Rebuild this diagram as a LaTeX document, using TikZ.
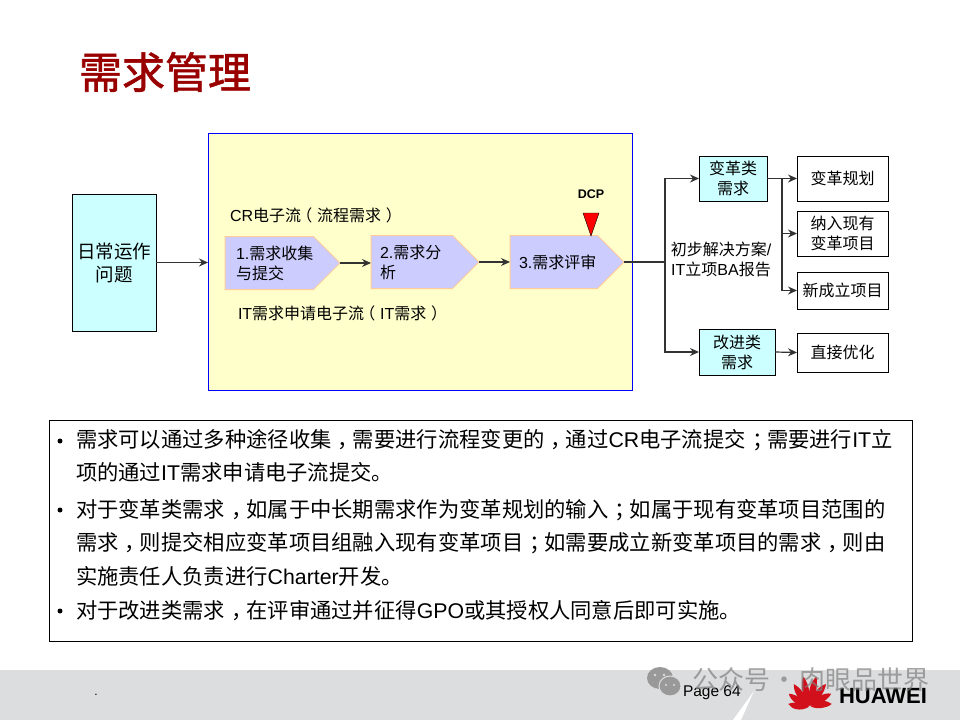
\documentclass[tikz,border=0pt]{standalone}
\usepackage{fontspec}
\setmainfont{Noto Sans CJK SC}
\newfontfamily\latinfont{Liberation Sans}
\newfontfamily\titlefont[FakeBold=1.4]{Noto Sans CJK SC}
\newcommand{\en}[1]{{\latinfont #1}}
\newcommand{\pnc}[1]{\kern.3em#1\kern-.3em}
\newcommand{\lpar}{\kern-.3em（\kern.3em}
\usepackage{tikz}
\usetikzlibrary{arrows.meta, positioning, shapes.symbols}
\definecolor{titlered}{HTML}{990000}
\definecolor{flowyellow}{HTML}{FFFFCC}
\definecolor{stepblue}{HTML}{CCCCFF}
\definecolor{stepedge}{HTML}{FFCC99}
\definecolor{typecyan}{HTML}{CCFFFF}
\definecolor{bandgray}{HTML}{DCDDDE}
\definecolor{linegray}{HTML}{333333}
\definecolor{logored}{HTML}{D2101C}
\tikzset{
  txt/.style={inner sep=0pt, outer sep=0pt, font=\fontsize{16}{20}\selectfont, align=center},
  steptxt/.style={inner sep=0pt, outer sep=0pt, font=\fontsize{16}{20}\selectfont, align=left, anchor=west},
  bodytxt/.style={inner sep=0pt, outer sep=0pt, font=\fontsize{21.3}{33.5}\selectfont, align=left, anchor=north west},
  dotmark/.style={circle, fill=black, inner sep=0pt, minimum size=5pt},
  typebox/.style={draw=black, line width=.8pt, fill=typecyan, inner sep=0pt, outer sep=0pt, align=center, font=\fontsize{16}{20}\selectfont},
  resbox/.style={draw=black, line width=.8pt, fill=white, inner sep=0pt, outer sep=0pt, minimum width=91pt, align=center, font=\fontsize{16}{20}\selectfont},
  stepsig/.style={signal, signal to=east, signal pointer angle=90, draw=stepedge, line width=1pt, fill=stepblue, inner sep=0pt, outer sep=0pt, minimum height=53pt, anchor=west},
  arr/.style={draw=linegray, line width=1.2pt, -{Stealth[length=9pt,width=8pt]}},
  lin/.style={draw=linegray, line width=1.2pt},
}
\begin{document}
\begin{tikzpicture}[x=1pt, y=-1pt]
  \useasboundingbox (0,0) rectangle (960,720);
  % Footer
  \fill[bandgray] (0,670) rectangle (960,720);
  \fill[white] (754,691) -- (741,720) -- (733,720) -- cycle;
  \node[txt, font=\fontsize{15.5}{18}\selectfont\latinfont, anchor=west] (page) at (683,693) {Page 64};
  \node[txt, font=\fontsize{12}{14}\selectfont\latinfont] (dot) at (96,695) {.};

  % Title
  \node[txt, font=\fontsize{43}{48}\selectfont\titlefont, text=titlered, anchor=west] (title) at (79,72) {需求管理};

  % Flow area
  \node[draw=blue, line width=1pt, fill=flowyellow, minimum width=424pt, minimum height=257pt, inner sep=0pt, outer sep=0pt] (flowarea) at (420,261.5) {};
  \node[draw=black, line width=.8pt, fill=typecyan, minimum width=84pt, minimum height=137pt, inner sep=0pt, outer sep=0pt, align=center, font=\fontsize{18.5}{23}\selectfont] (daily) at (114,262.5) {日常运作\\问题};

  \node[stepsig, minimum width=115pt] (collect) at (225,263) {};
  \node[stepsig, minimum width=108pt] (analyse) at (371,262) {};
  \node[stepsig, minimum width=114pt] (review) at (510,262) {};
  \node[steptxt, right=11pt of collect.west] (collecttxt) {\en{1.}需求收集\\与提交};
  \node[steptxt, right=9pt of analyse.west] (analysetxt) {\en{2.}需求分\\析};
  \node[steptxt, right=9pt of review.west] (reviewtxt) {\en{3.}需求评审};

  \node[txt, anchor=west] (crflow) at (230,215) {\en{CR}电子流\lpar 流程需求\pnc{）}};
  \node[txt, anchor=west] (itflow) at (238,313) {\en{IT}需求申请电子流\lpar\en{IT}需求\pnc{）}};

  % DCP marker
  \node[txt, font=\fontsize{12.5}{14}\selectfont\latinfont\bfseries] (dcp) at (591,194) {DCP};
  \fill[red, draw=black, line width=.4pt] (583,213) -- (599,213) -- (591,236) -- cycle;

  % Result boxes
  \node[typebox, minimum width=68pt, minimum height=45pt] (change) at (733,178.5) {变革类\\需求};
  \node[typebox, minimum width=76pt, minimum height=46pt] (improve) at (737,352) {改进类\\需求};
  \node[resbox, minimum height=45pt] (plan) at (842.5,178.5) {变革规划};
  \node[resbox, minimum height=45pt, below=10pt of plan] (include) {纳入现有\\变革项目};
  \node[resbox, minimum height=37pt, below=16pt of include] (newproj) {新成立项目};
  \node[resbox, minimum height=39pt] (direct) at (842.5,352.5) {直接优化};
  \node[txt] (report) at (721,259) {初步解决方案\en{/}\\\en{IT}立项\en{BA}报告};

  % Connect the boxes
  \coordinate (split) at (665,262);
  \coordinate (fork) at (782,178.5);
  \draw[arr] (daily.east) -- (daily.east -| flowarea.west);
  \draw[arr] (collect.east) -- (collect.east -| analyse.west);
  \draw[arr] (analyse.east) -- (review.west);
  \draw[lin] (review.east) -- (split);
  \draw[arr] (split) |- (change.west);
  \draw[arr] (split) |- (improve.west);
  \draw[arr] (change.east) -- (plan.west);
  \draw[arr] (fork) |- (include.west);
  \draw[arr] (fork) |- (newproj.west);
  \draw[arr] (improve.east) -- (direct.west);

  % Text box
  \node[draw=black, line width=.8pt, fill=white, minimum width=863pt, minimum height=221pt, inner sep=0pt, outer sep=0pt] (notes) at (480.5,530.5) {};
  \node[bodytxt] (noteone) at (76,429) {需求可以通过多种途径收集\pnc{，}需要进行流程变更的\pnc{，}通过\en{CR}电子流提交\pnc{；}需要进行\en{IT}立\\项的通过\en{IT}需求申请电子流提交。};
  \node[bodytxt] (notetwo) at (76,499) {对于变革类需求\pnc{，}如属于中长期需求作为变革规划的输入\pnc{；}如属于现有变革项目范围的\\需求\pnc{，}则提交相应变革项目组融入现有变革项目\pnc{；}如需要成立新变革项目的需求\pnc{，}则由\\实施责任人负责进行\en{Charter}开发。};
  \node[bodytxt] (notethree) at (76,600) {对于改进类需求\pnc{，}在评审通过并征得\en{GPO}或其授权人同意后即可实施。};
  \node[dotmark] (dotone) at (60,441) {};
  \node[dotmark] (dottwo) at (60,510) {};
  \node[dotmark] (dotthree) at (60,611) {};

  % Logo
  \foreach \a/\l in {-82/22, -58/25, -35/28, -12/31, 12/31, 35/28, 58/25, 82/22}
    \fill[logored, shift={(810,707)}, rotate=\a] (0,-1) .. controls (-6,-\l*.4) and (-5,-\l*.8) .. (0,-\l) .. controls (4,-\l*.7) and (3,-\l*.3) .. (0,-1);
  \node[txt, font=\fontsize{22}{24}\selectfont\latinfont\bfseries, anchor=west] (huawei) at (839,696) {HUAWEI};

  % Watermark
  \fill[gray!80] (660,678) ellipse (13 and 11);
  \fill[gray!80, draw=bandgray, line width=1pt] (670,686) ellipse (11 and 10);
  \fill[bandgray] (666,685) circle (1.2) (674,685) circle (1.2);
  \fill[bandgray] (655,675) circle (1.4) (664,675) circle (1.4);
  \node[txt, font=\fontsize{26}{28}\selectfont, text=gray, opacity=.7, anchor=west] (mark) at (692,680) {公众号\hspace{1.5pt}·\hspace{1.5pt}肉眼品世界};
\end{tikzpicture}
\end{document}
